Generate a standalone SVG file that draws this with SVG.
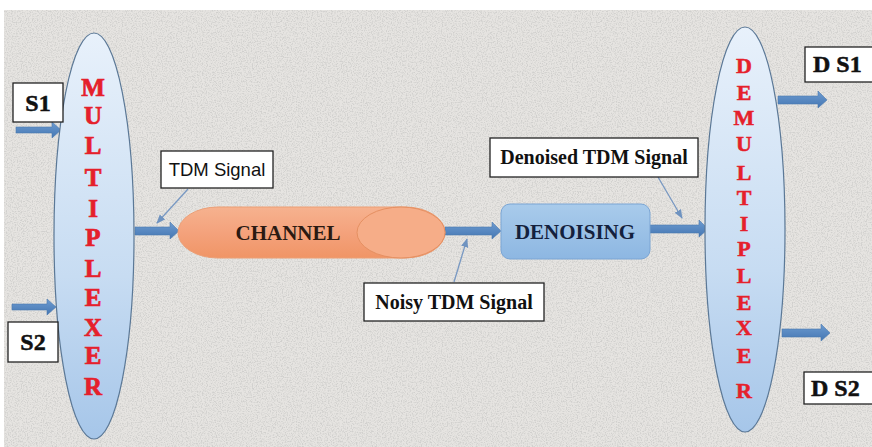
<svg xmlns="http://www.w3.org/2000/svg" width="872" height="447" viewBox="0 0 872 447">
  <defs>
    <filter id="grain" x="0" y="0" width="100%" height="100%">
      <feTurbulence type="fractalNoise" baseFrequency="0.8" numOctaves="2" seed="4" result="n"/>
      <feColorMatrix in="n" type="matrix" values="0 0 0 0 0.55  0 0 0 0 0.55  0 0 0 0 0.54  0 0 0 3.5 -1.55"/>
    </filter>
    <linearGradient id="lens" x1="0" y1="0" x2="0" y2="1">
      <stop offset="0" stop-color="#e8f1fb"/>
      <stop offset="0.6" stop-color="#c7dcf2"/>
      <stop offset="1" stop-color="#a6c6e9"/>
    </linearGradient>
    <linearGradient id="pill" x1="0" y1="0" x2="0" y2="1">
      <stop offset="0" stop-color="#f6b28f"/>
      <stop offset="0.5" stop-color="#f4a27c"/>
      <stop offset="1" stop-color="#f09566"/>
    </linearGradient>
    <linearGradient id="box" x1="0" y1="0" x2="0" y2="1">
      <stop offset="0" stop-color="#a9cbeb"/>
      <stop offset="1" stop-color="#8db7e2"/>
    </linearGradient>
    <linearGradient id="shaft" x1="0" y1="0" x2="0" y2="1">
      <stop offset="0" stop-color="#6d9bd0"/>
      <stop offset="1" stop-color="#4577b3"/>
    </linearGradient>
    <marker id="tip" viewBox="0 0 10 10" refX="9" refY="5" markerWidth="7" markerHeight="7" orient="auto">
      <path d="M0,1 L10,5 L0,9 Z" fill="#6f93c0"/>
    </marker>
    <style>
      .lab { fill:#fff; stroke:#222; stroke-width:1.3; }
      .big { font-family:"Liberation Serif", serif; font-weight:bold; font-size:24px; fill:#111; stroke:#111; stroke-width:0.5; }
      .sans { font-family:"Liberation Sans", Arial, sans-serif; font-size:18.5px; fill:#111; }
      .ser { font-family:"Liberation Serif", serif; font-weight:bold; font-size:20px; fill:#111; }
      .red { font-family:"Liberation Serif", serif; font-weight:bold; font-size:25px; fill:#e5202b; stroke:#e5202b; stroke-width:0.7; text-anchor:middle; }
      .red2 { font-family:"Liberation Serif", serif; font-weight:bold; font-size:22px; fill:#e5202b; stroke:#e5202b; stroke-width:0.5; text-anchor:middle; }
      .blk { fill:url(#shaft); stroke:#4a78ae; stroke-width:0.6; }
      .ptr { stroke:#7898c2; stroke-width:1.3; fill:none; marker-end:url(#tip); }
      .hd { font-family:"Liberation Serif", serif; font-weight:bold; font-size:21px; text-anchor:middle; }
    </style>
  </defs>

  <!-- page and textured backdrop -->
  <rect width="872" height="447" fill="#ffffff"/>
  <rect x="4" y="10" width="868" height="437" fill="#e6e4e1"/>
  <rect x="4" y="10" width="868" height="437" filter="url(#grain)" opacity="0.6"/>

  <!-- connectors -->
  <g id="connectors">
    <path class="blk" d="M16,127 H52 V122 L61,130 L52,138 V133 H16 Z"/>
    <path class="blk" d="M12,304 H47 V299 L56,307 L47,315 V310 H12 Z"/>
    <path class="blk" d="M135,227 H170 V222 L179,231 L170,239 V235 H135 Z"/>
    <path class="blk" d="M445,227 H492 V222 L501,231 L492,239 V235 H445 Z"/>
    <path class="blk" d="M650,225 H699 V220 L708,229 L699,237 V233 H650 Z"/>
    <path class="blk" d="M778,96 H818 V91 L827,100 L818,108 V104 H778 Z"/>
    <path class="blk" d="M782,329 H821 V324 L830,333 L821,341 V337 H782 Z"/>
    <path class="ptr" d="M188,189 L157,223"/>
    <path class="ptr" d="M454,282 L467,239"/>
    <path class="ptr" d="M658,177 L682,218"/>
  </g>

  <g id="multiplexer">
    <ellipse cx="94" cy="236" rx="40" ry="203" fill="url(#lens)" stroke="#5b7896" stroke-width="1.2"/>
    <text class="red" x="93" y="96">M</text>
    <text class="red" x="93" y="124">U</text>
    <text class="red" x="93" y="154">L</text>
    <text class="red" x="93" y="186">T</text>
    <text class="red" x="93" y="217">I</text>
    <text class="red" x="93" y="246">P</text>
    <text class="red" x="93" y="277">L</text>
    <text class="red" x="93" y="306">E</text>
    <text class="red" x="93" y="336">X</text>
    <text class="red" x="93" y="364">E</text>
    <text class="red" x="93" y="395">R</text>
  </g>

  <g id="s1">
    <rect class="lab" x="13" y="83" width="50" height="39"/>
    <text class="big" x="38" y="111" text-anchor="middle">S1</text>
  </g>
  <g id="s2">
    <rect class="lab" x="8" y="322" width="50" height="40"/>
    <text class="big" x="33" y="350" text-anchor="middle">S2</text>
  </g>

  <g id="tdm-signal">
    <rect class="lab" x="161" y="151" width="112" height="37"/>
    <text class="sans" x="217" y="176" text-anchor="middle">TDM Signal</text>
  </g>

  <g id="channel">
    <rect x="178" y="207" width="267" height="51" rx="40" ry="25.5" fill="url(#pill)" stroke="#ec9e75" stroke-width="1"/>
    <ellipse cx="401" cy="232.5" rx="44" ry="25.5" fill="#f6ad88" stroke="#e59062" stroke-width="1"/>
    <text class="hd" x="288" y="240" fill="#2b1a12">CHANNEL</text>
  </g>

  <g id="noisy-tdm">
    <rect class="lab" x="364" y="283" width="180" height="38"/>
    <text class="ser" x="454" y="309" text-anchor="middle">Noisy TDM Signal</text>
  </g>

  <g id="denoising">
    <rect x="501" y="204" width="149" height="55" rx="9" fill="url(#box)" stroke="#7aa5d4" stroke-width="1"/>
    <text class="hd" x="575" y="239" fill="#14213d" font-size="22">DENOISING</text>
  </g>

  <g id="denoised-tdm">
    <rect class="lab" x="490" y="138" width="208" height="39"/>
    <text class="ser" x="594" y="164" text-anchor="middle">Denoised TDM Signal</text>
  </g>

  <g id="demultiplexer">
    <ellipse cx="745" cy="229.5" rx="40" ry="202.5" fill="url(#lens)" stroke="#5b7896" stroke-width="1.2"/>
    <text class="red2" x="744" y="73">D</text>
    <text class="red2" x="744" y="100">E</text>
    <text class="red2" x="744" y="125">M</text>
    <text class="red2" x="744" y="151">U</text>
    <text class="red2" x="744" y="180">L</text>
    <text class="red2" x="744" y="205">T</text>
    <text class="red2" x="744" y="231">I</text>
    <text class="red2" x="744" y="256">P</text>
    <text class="red2" x="744" y="283">L</text>
    <text class="red2" x="744" y="310">E</text>
    <text class="red2" x="744" y="335">X</text>
    <text class="red2" x="744" y="363">E</text>
    <text class="red2" x="744" y="398">R</text>
  </g>

  <g id="ds1">
    <rect class="lab" x="805" y="47" width="70" height="35"/>
    <text class="big" x="813" y="72" font-size="22">D S1</text>
  </g>
  <g id="ds2">
    <rect class="lab" x="804" y="372" width="72" height="32"/>
    <text class="big" x="811" y="396" font-size="22">D S2</text>
  </g>
</svg>
